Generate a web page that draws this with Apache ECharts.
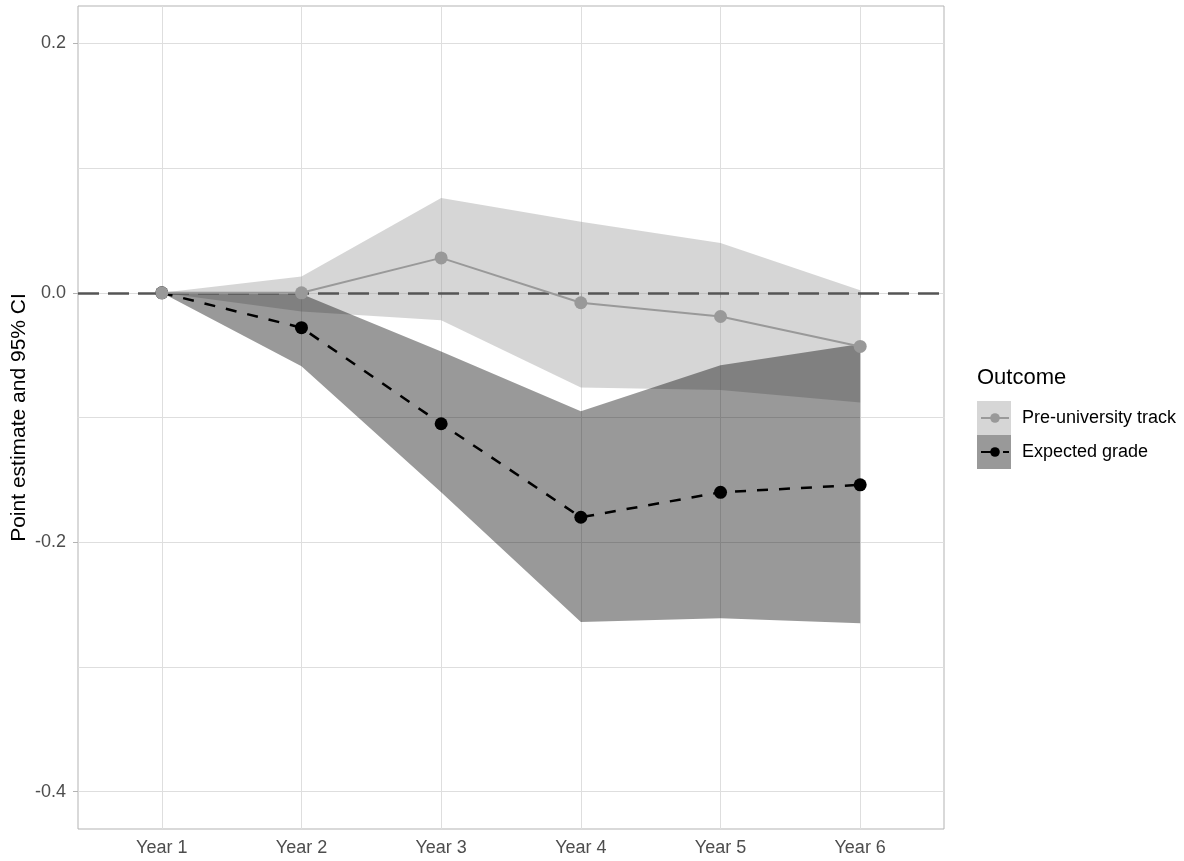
<!DOCTYPE html>
<html><head><meta charset="utf-8">
<script src="https://cdn.jsdelivr.net/npm/echarts@6/dist/echarts.min.js"></script>
<style>html,body{margin:0;padding:0;background:#fff}#c{width:1184px;height:861px}</style>
</head><body><div id="c"></div>
<script>
// ---- data ----
const categories = ['Year 1', 'Year 2', 'Year 3', 'Year 4', 'Year 5', 'Year 6'];
const yLabelTicks = [-0.4, -0.2, 0, 0.2];
const yGridTicks = [-0.4, -0.3, -0.2, -0.1, 0, 0.1, 0.2];
const preEst  = [0, 0.000, 0.028, -0.008, -0.019, -0.043];
const preLow  = [0, -0.015, -0.022, -0.076, -0.078, -0.088];
const preHigh = [0, 0.013, 0.076, 0.057, 0.040, 0.002];
const expEst  = [0, -0.028, -0.105, -0.180, -0.160, -0.154];
const expLow  = [0, -0.059, -0.160, -0.264, -0.261, -0.265];
const expHigh = [0, -0.001, -0.047, -0.095, -0.058, -0.041];

const FONT = '"Liberation Sans", Arial, sans-serif';
const xs = categories.map((c, i) => i + 1);
const pairs = arr => arr.map((v, i) => [xs[i], v]);

function ribbon(name, lo, hi, fill, legendColor, extra) {
  return Object.assign({
    name: name, type: 'custom', silent: true, z: 1,
    itemStyle: {color: legendColor},
    data: lo.map((v, i) => [xs[i], v, hi[i]]),
    encode: {x: 0, y: [1, 2]},
    renderItem: (params, api) => {
      if (params.dataIndex !== 0) return null;
      const top = hi.map((v, i) => api.coord([xs[i], v]));
      const bot = lo.map((v, i) => api.coord([xs[i], v])).reverse();
      return {type: 'polygon', shape: {points: top.concat(bot)}, style: {fill: fill, stroke: null}};
    }
  }, extra || {});
}

const chart = echarts.init(document.getElementById('c'), null, {renderer: 'canvas'});
chart.setOption({
  animation: false,
  backgroundColor: '#fff',
  textStyle: {fontFamily: FONT},
  grid: {left: 78, right: 240, top: 6, bottom: 32, containLabel: false, outerBoundsMode: 'none',
    show: true, borderColor: '#b3b3b3', borderWidth: 1, backgroundColor: 'transparent'},
  title: {text: 'Outcome', left: 977, top: 367, padding: 0,
    textStyle: {fontSize: 22, fontWeight: 'normal', color: '#000', fontFamily: FONT}},
  xAxis: {
    type: 'value', min: 0.4, max: 6.6,
    axisLine: {show: false},
    axisTick: {show: true, length: 5, lineStyle: {color: '#b3b3b3'}, customValues: xs},
    axisLabel: {customValues: xs, formatter: v => categories[Math.round(v) - 1], fontSize: 18, color: '#4d4d4d', margin: 10, fontFamily: FONT},
    splitLine: {show: true, lineStyle: {color: '#dedede', width: 1}}
  },
  yAxis: [{
    type: 'value', min: -0.43, max: 0.23,
    name: 'Point estimate and 95% CI', nameLocation: 'middle', nameGap: 48, nameMoveOverlap: false,
    nameTextStyle: {fontSize: 21, color: '#000', fontFamily: FONT},
    axisLine: {show: false},
    axisTick: {show: true, length: 5, lineStyle: {color: '#b3b3b3'}, customValues: yLabelTicks},
    axisLabel: {customValues: yLabelTicks, formatter: v => v.toFixed(1), fontSize: 18, color: '#4d4d4d', margin: 12, fontFamily: FONT},
    splitLine: {show: false}
  }, {
    type: 'value', min: -0.43, max: 0.23, position: 'left',
    axisLine: {show: false},
    axisTick: {show: false, customValues: yGridTicks},
    axisLabel: {show: false, customValues: yGridTicks},
    splitLine: {show: true, lineStyle: {color: '#dedede', width: 1}}
  }],
  legend: [{
    data: ['preBand', 'expBand'], orient: 'vertical', left: 977, top: 401, padding: 0,
    itemWidth: 34, itemHeight: 34, itemGap: 0, icon: 'rect', selectedMode: false,
    formatter: () => '', z: 1, itemStyle: {borderWidth: 0}
  }, {
    data: ['Pre-university track', 'Expected grade'], orient: 'vertical', left: 980, top: 408, padding: 0,
    itemWidth: 28, itemHeight: 12, itemGap: 14, selectedMode: false, z: 3,
    textStyle: {fontSize: 18, color: '#000', lineHeight: 20, padding: [0, 0, 0, 8], fontFamily: FONT}
  }],
  series: [
    ribbon('preBand', preLow, preHigh, 'rgba(153,153,153,0.4)', '#d6d6d6'),
    ribbon('expBand', expLow, expHigh, 'rgba(0,0,0,0.4)', '#999999', {
      markLine: {silent: true, symbol: 'none', label: {show: false}, z: 2,
        lineStyle: {color: '#555555', width: 2.5, type: [21, 9]}, data: [{yAxis: 0}]}
    }),
    {name: 'Pre-university track', type: 'line', data: pairs(preEst), symbol: 'circle', symbolSize: 13,
      lineStyle: {color: '#999999', width: 2}, itemStyle: {color: '#999999'}, z: 4},
    {name: 'Expected grade', type: 'line', data: pairs(expEst), symbol: 'circle', symbolSize: 13,
      lineStyle: {color: '#000000', width: 2.5, type: [11, 11]}, itemStyle: {color: '#000000'}, z: 3}
  ]
});
</script>
</body></html>
